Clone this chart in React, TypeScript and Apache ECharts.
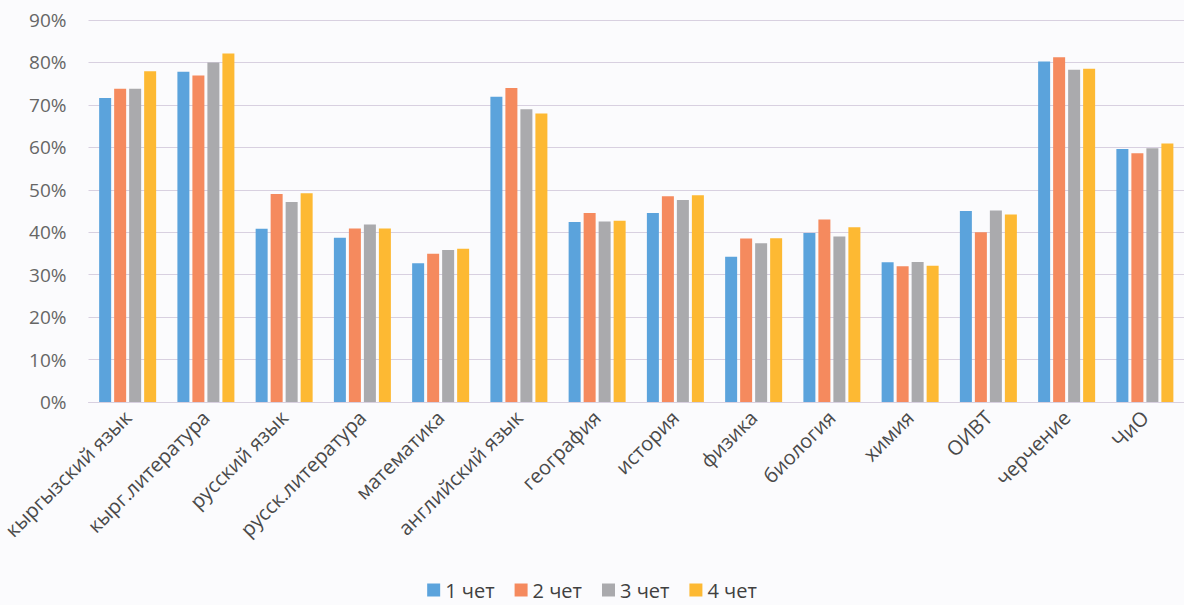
import React, { useEffect, useRef } from "react";
import * as echarts from "echarts";

const categories = [
  "кыргызский язык",
  "кырг.литература",
  "русский язык",
  "русск.литература",
  "математика",
  "английский язык",
  "география",
  "история",
  "физика",
  "биология",
  "химия",
  "ОИВТ",
  "черчение",
  "ЧиО",
];

const seriesNames = ["1 чет", "2 чет", "3 чет", "4 чет"];

const q1 = [71.6, 77.8, 40.8, 38.7, 32.7, 71.9, 42.4, 44.5, 34.2, 39.8, 32.9, 45.0, 80.2, 59.6];
const q2 = [73.8, 76.9, 49.0, 40.9, 34.9, 74.0, 44.5, 48.5, 38.5, 43.0, 32.0, 40.0, 81.2, 58.6];
const q3 = [73.8, 80.0, 47.1, 41.8, 35.8, 69.0, 42.5, 47.6, 37.4, 39.0, 33.0, 45.1, 78.3, 59.8];
const q4 = [77.9, 82.1, 49.2, 40.9, 36.1, 68.0, 42.7, 48.7, 38.6, 41.2, 32.1, 44.2, 78.5, 60.9];

const colors = ["#5BA3DC", "#F58A5E", "#AAAAAD", "#FDB933"];

export default function App() {
  const ref = useRef<HTMLDivElement>(null);

  useEffect(() => {
    if (!ref.current) return;
    const chart = echarts.init(ref.current, null, { renderer: "svg" });
    const font = "'Open Sans', 'Noto Sans', sans-serif";
    const data = [q1, q2, q3, q4];
    chart.setOption({
      animation: false,
      backgroundColor: "#FBFBFD",
      textStyle: { fontFamily: font },
      grid: { left: 78, right: -10, top: 20, bottom: 203, containLabel: false },
      legend: {
        bottom: 0,
        left: "center",
        icon: "rect",
        itemWidth: 13,
        itemHeight: 13,
        itemGap: 20,
        textStyle: { fontSize: 20, color: "#404040", fontFamily: font },
        data: seriesNames,
      },
      xAxis: {
        type: "category",
        data: categories,
        axisLine: { show: true, lineStyle: { color: "#D8D0E0" } },
        axisTick: { show: false },
        axisLabel: {
          rotate: 45,
          interval: 0,
          fontSize: 20,
          color: "#4A4A4A",
          margin: 12,
          fontFamily: font,
        },
      },
      yAxis: {
        type: "value",
        min: 0,
        max: 90,
        interval: 10,
        axisLine: { show: false },
        axisTick: { show: false },
        splitLine: { lineStyle: { color: "#D8D0E0", width: 1.2 } },
        axisLabel: {
          formatter: "{value}%",
          fontSize: 19,
          color: "#666666",
          margin: 22,
          fontFamily: font,
        },
      },
      series: seriesNames.map((name, i) => ({
        name,
        type: "bar",
        data: data[i],
        barWidth: 12,
        barGap: "25%",
        itemStyle: { color: colors[i] },
      })),
    });
    return () => chart.dispose();
  }, []);

  return (
    <div
      ref={ref}
      style={{ position: "fixed", left: 0, top: 0, width: 1184, height: 605 }}
    />
  );
}
